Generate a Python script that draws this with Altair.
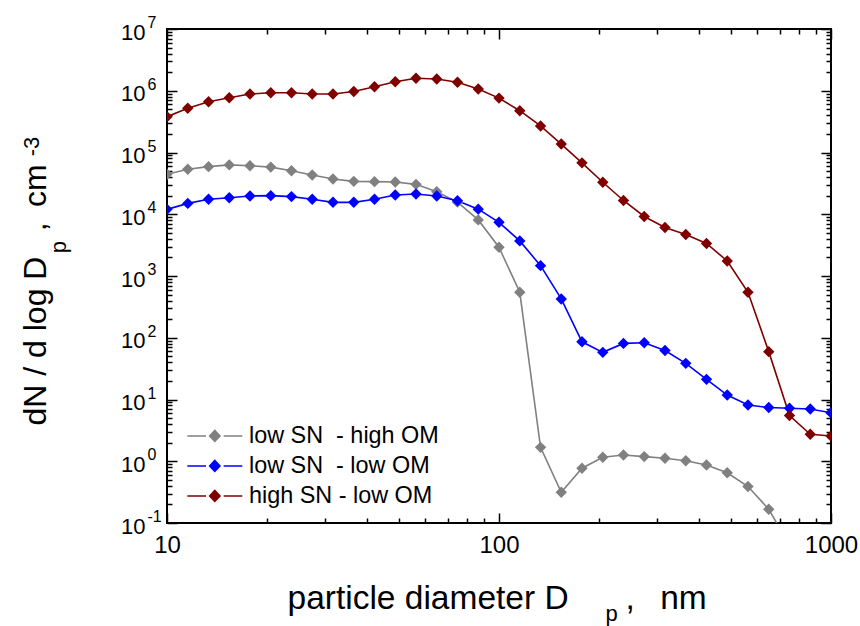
import altair as alt
import pandas as pd

# particle diameter grid (nm)
diam = [10.0, 11.55, 13.34, 15.40, 17.78, 20.54, 23.71, 27.38, 31.62, 36.52,
        42.17, 48.70, 56.23, 64.94, 74.99, 86.60, 100.0, 115.5, 133.4, 154.0,
        177.8, 205.4, 237.1, 273.8, 316.2, 365.2, 421.7, 487.0, 562.3, 649.4,
        749.9, 866.0, 1000.0]

gray_vals = [4.44e4, 5.35e4, 5.9e4, 6.3e4, 6.1e4, 5.8e4, 5.07e4, 4.33e4, 3.72e4, 3.41e4,
             3.37e4, 3.33e4, 3.05e4, 2.32e4, 1.57e4, 8.1e3, 2.92e3, 545, 1.68, 0.314,
             0.77, 1.16, 1.26, 1.19, 1.12, 1.02, 0.87, 0.65, 0.39, 0.167,
             0.044]
blue_vals = [1.20e4, 1.50e4, 1.75e4, 1.85e4, 1.98e4, 2.0e4, 1.93e4, 1.75e4, 1.56e4, 1.56e4,
             1.75e4, 2.05e4, 2.13e4, 1.98e4, 1.65e4, 1.21e4, 7.4e3, 3.7e3, 1.47e3, 425,
             86, 58, 81, 83, 62, 38.5, 21.2, 11.8, 8.15, 7.4,
             7.2, 7.0, 6.1]
red_vals = [3.8e5, 5.2e5, 6.65e5, 7.7e5, 8.85e5, 9.3e5, 9.3e5, 8.85e5, 8.85e5, 9.7e5,
            1.16e6, 1.40e6, 1.59e6, 1.55e6, 1.37e6, 1.07e6, 7.6e5, 4.75e5, 2.69e5, 1.37e5,
            6.8e4, 3.3e4, 1.67e4, 9.2e3, 6.1e3, 4.7e3, 3.36e3, 1.75e3, 545, 59.6,
            5.5, 2.73, 2.56]

series_names = ["low SN\u00a0 - high OM", "low SN\u00a0 - low OM", "high SN - low OM"]
series_colors = ["#808080", "#0000ff", "#800000"]

x_major = [10, 100, 1000]
x_minor = [m * 10 ** k for k in (1, 2) for m in range(2, 10)]
y_major = [10.0 ** k for k in range(-1, 8)]
y_minor = [m * 10.0 ** k for k in range(-1, 7) for m in range(2, 10)]

NB = "\u00a0"
TH = "\u2009"
x_title_main = "particle diameter D"
x_title_sub = "p"
x_title_tail = "," + NB * 2 + TH + "nm"
y_title_main = "dN / d log D"
y_title_sub = "p"
y_title_tail = "," + NB + TH + "cm"
y_title_sup = "-3"

rows = []
for name, vals in zip(series_names, [gray_vals, blue_vals, red_vals]):
    for i, v in enumerate(vals):
        rows.append({"series": name, "idx": i, "d": diam[i], "n": v})
df = pd.DataFrame(rows)

W, H = 664, 494
FONT = "Liberation Sans"

xscale = alt.Scale(type="log", domain=[10, 1000], nice=False)
yscale = alt.Scale(type="log", domain=[0.1, 1e7], nice=False)

LEG_PATH = "M-5,0L-1.6,0M1.6,0L5,0M-0.95,0L0,-1.0L0.95,0L0,1.0Z"

color = alt.Color(
    "series:N",
    sort=series_names,
    scale=alt.Scale(domain=series_names, range=series_colors),
    legend=alt.Legend(
        orient="none", legendX=20.1, legendY=395.2, title=None,
        symbolType=LEG_PATH, symbolSize=121, symbolStrokeWidth=1.5,
        symbolOffset=16, labelOffset=22.5, labelFontSize=23.4, labelFont=FONT,
        labelColor="black", labelLimit=400, rowPadding=5, padding=0,
    ),
)

TITLE_COMMON = dict(titleFont=FONT, titleFontWeight="normal", titleColor="black",
                    titleBaseline="alphabetic")


def tick_axis(orient, offset, values, size, **title_kw):
    kw = dict(orient=orient, offset=offset, values=values, tickSize=size,
              tickWidth=1.5, tickColor="black", ticks=True, labels=False,
              domain=False, grid=False)
    if title_kw:
        kw.update(TITLE_COMMON)
        kw.update(title_kw)
    else:
        kw["title"] = None
    return alt.Axis(**kw)


ax_x_labels = alt.Axis(
    orient="bottom", values=x_major, format="d", ticks=False, tickSize=0,
    domain=False, grid=False, labelFlush=False, labelOverlap=False,
    labelFontSize=24, labelFont=FONT, labelColor="black", labelPadding=10,
    title=x_title_main, titleFontSize=33.5, titleX=120, titleY=85.3,
    titleAlign="left", **TITLE_COMMON,
)
ax_y_ten = alt.Axis(
    orient="left", values=y_major, labelExpr="'10'", ticks=False, tickSize=0,
    domain=False, grid=False, labelOverlap=False, labelFontSize=22,
    labelFont=FONT, labelColor="black", labelPadding=22, labelOffset=3,
    labelAlign="right", labelBaseline="middle",
    title=y_title_main, titleFontSize=32, titleAngle=270, titleX=-122,
    titleY=396, titleAlign="left", **TITLE_COMMON,
)
ax_y_exp = alt.Axis(
    orient="left", values=y_major,
    labelExpr="'' + round(log(datum.value) / LN10)",
    ticks=False, tickSize=0, domain=False, grid=False, labelOverlap=False,
    labelFontSize=16, labelFont=FONT, labelColor="black", labelPadding=20,
    labelOffset=-6.5, labelAlign="left", labelBaseline="middle",
    title=y_title_sub, titleFontSize=22, titleAngle=270, titleX=-101.5,
    titleY=217.7, titleAlign="center", **TITLE_COMMON,
)

base = alt.Chart(df)

lines = base.mark_line(strokeWidth=1.6, clip=True).encode(
    x=alt.X("d:Q", scale=xscale, axis=ax_x_labels),
    y=alt.Y("n:Q", scale=yscale, axis=ax_y_ten),
    color=color,
    order="idx:Q",
)
points = base.mark_point(shape="diamond", filled=True, size=130, opacity=1, clip=True).encode(
    x=alt.X("d:Q", scale=xscale, axis=tick_axis("top", -H, x_major, 10)),
    y=alt.Y("n:Q", scale=yscale, axis=ax_y_exp),
    color=color,
)
inv1 = base.mark_point(opacity=0, size=1, clip=True).encode(
    x=alt.X("d:Q", scale=xscale, axis=tick_axis("top", -H, x_minor, 5)),
    y=alt.Y("n:Q", scale=yscale,
            axis=tick_axis("right", -W, y_major, 10, title=y_title_sup,
                           titleFontSize=22, titleAngle=270, titleX=-129,
                           titleY=117, titleAlign="center")),
)
inv2 = base.mark_point(opacity=0, size=1, clip=True).encode(
    x=alt.X("d:Q", scale=xscale,
            axis=tick_axis("bottom", -H, x_major, 10, title=x_title_sub,
                           titleFontSize=22, titleX=444, titleY=591.6,
                           titleAlign="center", titleAngle=0)),
    y=alt.Y("n:Q", scale=yscale,
            axis=tick_axis("right", -W, y_minor, 5, title=y_title_tail,
                           titleFontSize=32, titleAngle=270, titleX=-122,
                           titleY=201.8, titleAlign="left")),
)
inv3 = base.mark_point(opacity=0, size=1, clip=True).encode(
    x=alt.X("d:Q", scale=xscale,
            axis=tick_axis("bottom", -H, x_minor, 5, title=x_title_tail,
                           titleFontSize=33.5, titleX=458.1, titleY=579.3,
                           titleAlign="left", titleAngle=0)),
    y=alt.Y("n:Q", scale=yscale, axis=tick_axis("left", -W, y_major, 10)),
)
inv4 = base.mark_point(opacity=0, size=1, clip=True).encode(
    x=alt.X("d:Q", scale=xscale, axis=None),
    y=alt.Y("n:Q", scale=yscale, axis=tick_axis("left", -W, y_minor, 5)),
)

chart = alt.layer(lines, points, inv1, inv2, inv3, inv4).properties(
    width=W, height=H,
    autosize=alt.AutoSizeParams(type="none"),
    padding={"left": 167, "top": 29, "right": 29, "bottom": 103},
    background="white",
).configure(font=FONT).configure_view(stroke="black", strokeWidth=2)

chart.save("out.html", embed_options={"renderer": "svg", "actions": False})
